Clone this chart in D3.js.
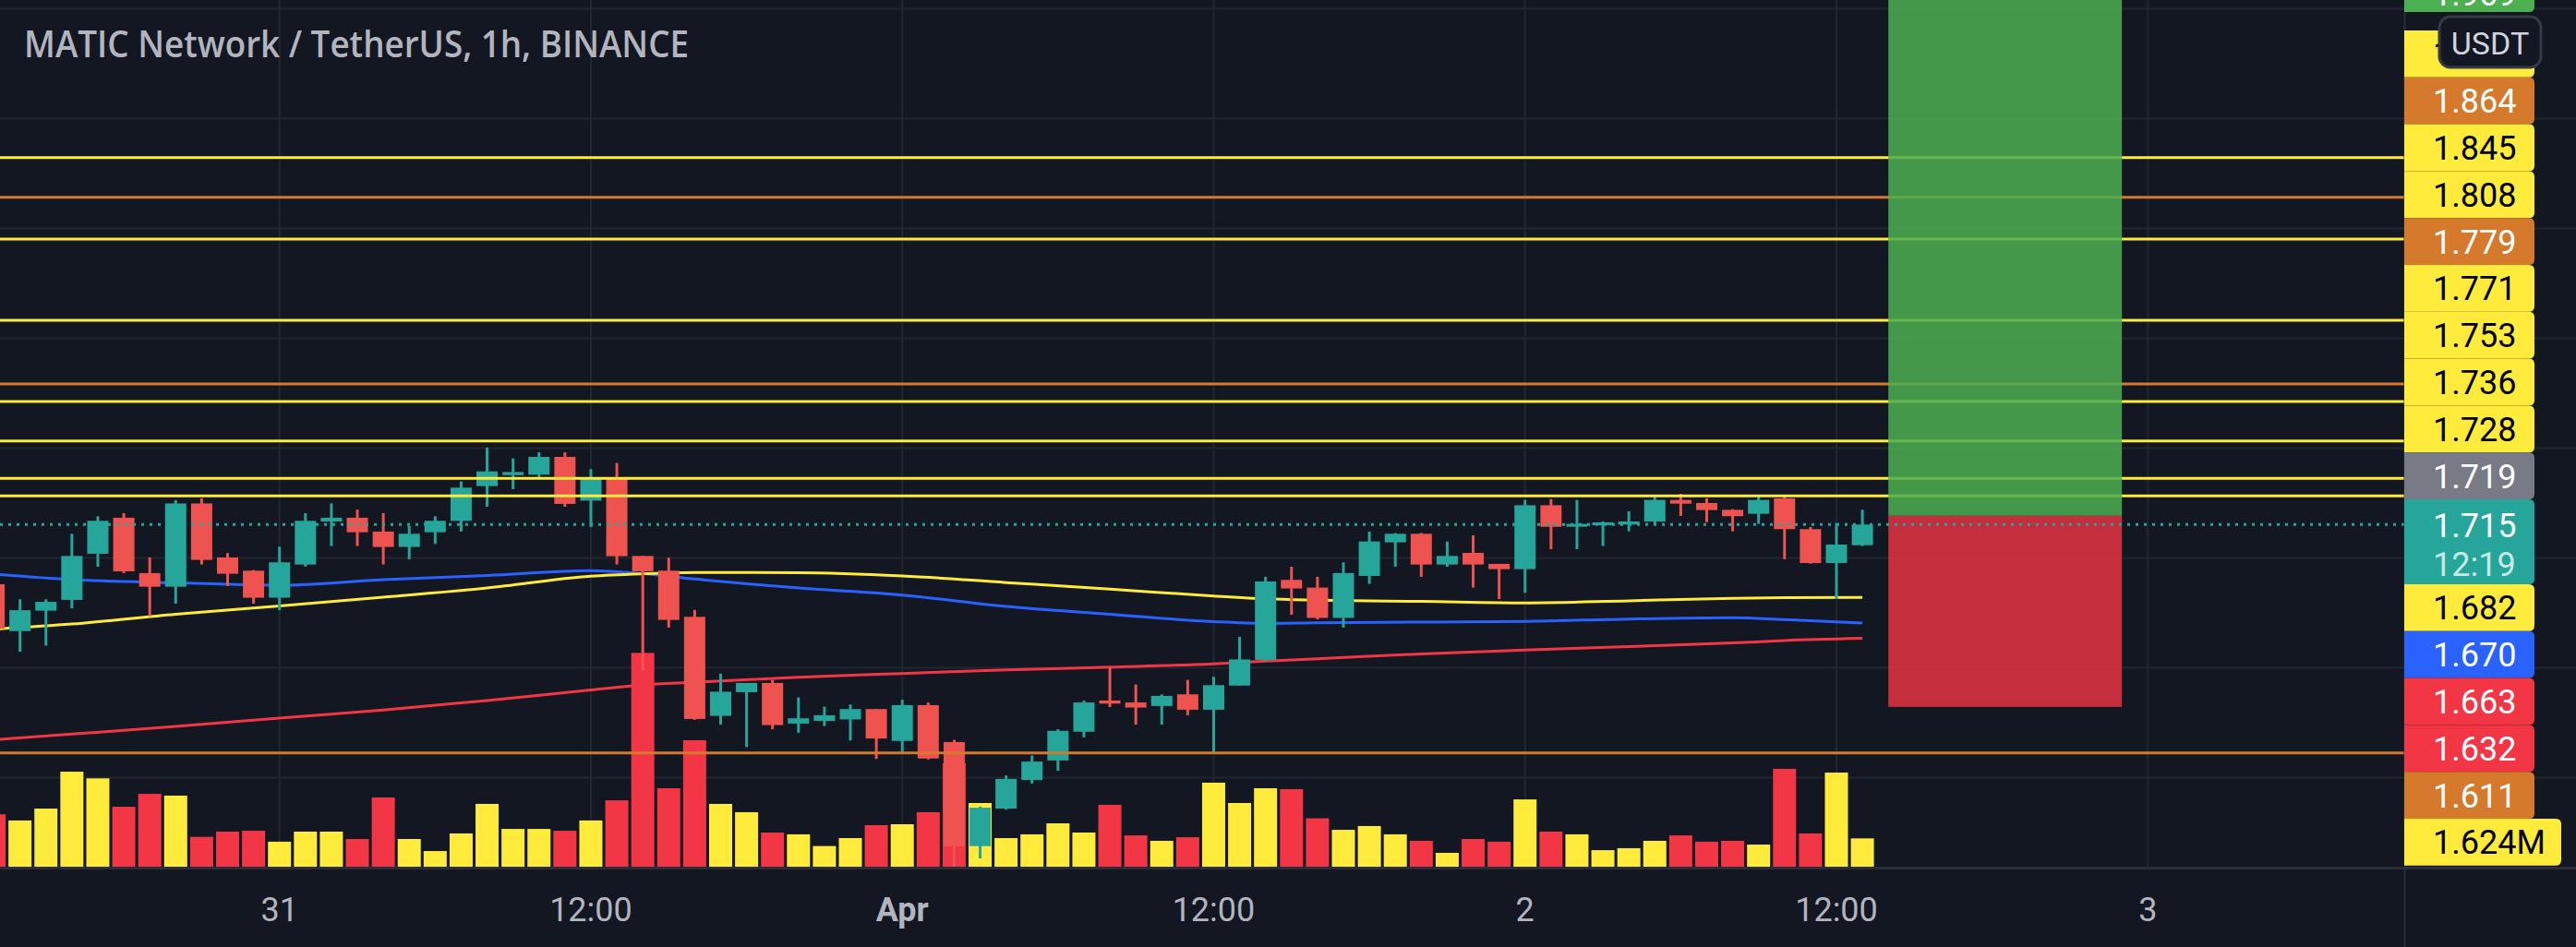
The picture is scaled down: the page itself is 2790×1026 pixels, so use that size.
<!DOCTYPE html>
<html><head><meta charset="utf-8">
<script src="https://cdn.jsdelivr.net/npm/d3@7"></script>
<style>html,body{margin:0;padding:0;background:#131722;overflow:hidden}</style>
</head><body>
<svg id="c" width="2790" height="1026"></svg>
<script>
// ---------------- DATA ----------------
const title = "MATIC Network / TetherUS, 1h, BINANCE";
const firstBar = "2022-03-30T13:00:00Z";   // hourly bars from here
const opens  = [1.6878,1.6665,1.6758,1.6807,1.7017,1.7181,1.6929,1.6867,1.7246,1.7000,1.6940,
  1.6817,1.6968,1.7164,1.7181,1.7118,1.7048,1.7115,1.7167,1.7325,1.7375,1.7377,1.7458,
  1.7259,1.7360,1.7007,1.6940,1.6730,1.6279,1.6387,1.6429,1.6244,1.6256,1.6263,1.6310,
  1.6165,1.6328,1.6160,1.5686,1.5857,1.5987,1.6076,1.6207,1.6349,1.6340,1.6324,1.6377,
  1.6307,1.6417,1.6534,1.6898,1.6863,1.6725,1.6916,1.7069,1.7108,1.6968,1.7021,1.6971,
  1.6947,1.7238,1.7140,1.7147,1.7150,1.7164,1.7262,1.7248,1.7217,1.7199,1.7269,1.7129,
  1.6975,1.7056];
const highs  = [1.6900,1.6810,1.6810,1.7108,1.7188,1.7202,1.7000,1.7261,1.7269,1.7020,1.6943,
  1.7049,1.7202,1.7246,1.7218,1.7202,1.7143,1.7188,1.7346,1.7500,1.7451,1.7479,1.7479,
  1.7402,1.7430,1.7007,1.6999,1.6761,1.6471,1.6429,1.6443,1.6363,1.6321,1.6331,1.6310,
  1.6352,1.6340,1.6170,1.5866,1.6008,1.6099,1.6218,1.6349,1.6499,1.6422,1.6377,1.6443,
  1.6457,1.6639,1.6912,1.6958,1.6912,1.6978,1.7118,1.7111,1.7112,1.7073,1.7101,1.6971,
  1.7262,1.7266,1.7262,1.7164,1.7210,1.7276,1.7290,1.7269,1.7220,1.7283,1.7283,1.7139,
  1.7157,1.7217];
const lows   = [1.6650,1.6571,1.6599,1.6769,1.6958,1.6929,1.6733,1.6790,1.6968,1.6870,1.6790,
  1.6760,1.6958,1.7052,1.7052,1.6968,1.6992,1.7062,1.7118,1.7231,1.7311,1.7363,1.7231,
  1.7139,1.6968,1.6485,1.6681,1.6261,1.6239,1.6137,1.6218,1.6202,1.6233,1.6167,1.6083,
  1.6106,1.6081,1.5580,1.5630,1.5852,1.5971,1.6029,1.6181,1.6319,1.6239,1.6239,1.6282,
  1.6106,1.6417,1.6527,1.6739,1.6718,1.6681,1.6880,1.6958,1.6912,1.6958,1.6863,1.6811,
  1.6839,1.7038,1.7038,1.7052,1.7119,1.7147,1.7189,1.7161,1.7119,1.7153,1.6992,1.6972,
  1.6811,1.7052];
const closes = [1.6676,1.6760,1.6798,1.7007,1.7167,1.6937,1.6867,1.7246,1.6989,1.6926,1.6817,
  1.6978,1.7167,1.7181,1.7115,1.7048,1.7108,1.7167,1.7318,1.7392,1.7389,1.7458,1.7244,
  1.7360,1.7006,1.6937,1.6716,1.6265,1.6389,1.6429,1.6237,1.6268,1.6282,1.6310,1.6176,
  1.6328,1.6085,1.5685,1.5861,1.5992,1.6071,1.6211,1.6340,1.6335,1.6317,1.6370,1.6307,
  1.6419,1.6536,1.6891,1.6859,1.6725,1.6929,1.7073,1.7108,1.6968,1.7007,1.6968,1.6947,
  1.7238,1.7140,1.7153,1.7160,1.7164,1.7262,1.7245,1.7216,1.7188,1.7262,1.7129,1.6975,
  1.7059,1.7150];
const volumes = [2.96,2.62,3.28,5.33,4.96,3.38,4.10,4.00,1.71,2.00,2.05,
  1.44,2.00,2.00,1.59,3.90,1.59,0.92,1.90,3.54,2.15,2.15,2.05,
  2.62,3.74,11.93,4.41,7.08,3.54,3.08,1.95,1.85,1.20,1.64,2.36,
  2.41,3.08,5.80,3.59,1.64,1.85,2.46,1.95,3.49,1.79,1.49,1.69,
  4.72,3.59,4.41,4.36,2.74,2.10,2.31,1.85,1.49,0.82,1.59,1.44,
  3.79,2.00,1.85,0.97,1.08,1.49,1.79,1.44,1.49,1.28,5.49,1.90,
  5.28,1.624]; // millions

// moving averages read at these bar indices
const maIndex  = [0,3,7,11,15,19,23,25,27,31,35,39,43,47,49,51,55,59,63,67,69,72];
const maYellow = [1.6674,1.6697,1.6742,1.6779,1.6819,1.6861,1.6915,1.6926,1.6932,1.6931,1.6916,1.6886,1.6856,1.6825,1.6812,1.6806,1.6800,1.6793,1.6803,1.6814,1.6817,1.6818];
const maBlue   = [1.6924,1.6899,1.6885,1.6874,1.6899,1.6918,1.6940,1.6926,1.6902,1.6861,1.6829,1.6777,1.6742,1.6708,1.6700,1.6703,1.6706,1.6709,1.6720,1.6726,1.6717,1.6702];
const maRed    = [1.6170,1.6196,1.6231,1.6269,1.6306,1.6349,1.6397,1.6420,1.6432,1.6455,1.6472,1.6488,1.6501,1.6516,1.6528,1.6539,1.6561,1.6579,1.6595,1.6611,1.6622,1.6632];

// horizontal drawings
const levelPrices = [1.882,1.864,1.845,1.808,1.779,1.771,1.753,1.736,1.728,1.611];
const levelKinds  = ["y","o","y","y","o","y","y","y","y","o"];

// long position tool
const posEntry = 1.719, posStop = 1.632, posTarget = 1.969;
const posStartBar = 73, posEndBar = 82;

const lastPrice = 1.715, countdown = "12:19", currency = "USDT";

// ---------------- STYLE ----------------
const C = {
  bg:"#131722", grid:"#22262f", text:"#b2b5be",
  up:"#26a69a", down:"#ef5350", volUp:"#ffeb3b", volDown:"#f23645",
  yellow:"#ffeb3b", orange:"#d57a2c", blue:"#2962ff", red:"#f23645", gray:"#787b86", green:"#4caf50"
};
const W=2790, H=1026, plotW=2604, plotH=940;

const svg = d3.select("#c");
const t0 = new Date(firstBar);
const barTime = i => d3.utcHour.offset(t0, i);
const times = opens.map((_, i) => barTime(i));

const x = d3.scaleUtc().domain([barTime(11), barTime(71)]).range([302.7, 302.7 + 60*28.105]);
const y = d3.scaleLinear().domain([1.60, 1.95]).range([842, 9]);
const vy = d3.scaleLinear().domain([0, 12]).range([plotH, plotH - 12*19.5]);

svg.append("rect").attr("width",W).attr("height",H).attr("fill",C.bg);

// grid
const priceTicks = y.ticks(7);
svg.append("g").selectAll("line").data(priceTicks).join("line")
  .attr("x1",0).attr("x2",W).attr("y1",d=>Math.round(y(d))+0.5).attr("y2",d=>Math.round(y(d))+0.5)
  .attr("stroke",C.grid).attr("stroke-width",2);
const timeTicks = d3.utcHour.every(12).range(barTime(0), barTime(84)).filter(t=>x(t)>0 && x(t)<plotW);
svg.append("g").selectAll("line").data(timeTicks).join("line")
  .attr("x1",d=>x(d)).attr("x2",d=>x(d)).attr("y1",0).attr("y2",plotH)
  .attr("stroke",C.grid).attr("stroke-width",2);

// plot clip
svg.append("clipPath").attr("id","clip").append("rect").attr("width",plotW).attr("height",plotH);
const plot = svg.append("g").attr("clip-path","url(#clip)");

const isUp = i => closes[i] >= opens[i];

// volume
plot.append("g").selectAll("rect").data(volumes).join("rect")
  .attr("x",(d,i)=>x(times[i]) - 12.5).attr("width",25)
  .attr("y",d=>vy(d)).attr("height",d=>plotH - vy(d))
  .attr("fill",(d,i)=>isUp(i)?C.volUp:C.volDown);

// moving averages
const maLine = vals => d3.line().x((d,k)=>x(times[maIndex[k]])).y(d=>y(d)).curve(d3.curveMonotoneX)(vals);
[[maRed,C.red],[maBlue,C.blue],[maYellow,C.yellow]].forEach(([vals,col])=>{
  plot.append("path").attr("d",maLine(vals)).attr("fill","none").attr("stroke",col).attr("stroke-width",3);
});

// candles
const cg = plot.append("g");
cg.selectAll("line").data(opens).join("line")
  .attr("x1",(d,i)=>x(times[i])).attr("x2",(d,i)=>x(times[i]))
  .attr("y1",(d,i)=>y(highs[i])).attr("y2",(d,i)=>y(lows[i]))
  .attr("stroke",(d,i)=>isUp(i)?C.up:C.down).attr("stroke-width",3);
cg.selectAll("rect").data(opens).join("rect")
  .attr("x",(d,i)=>x(times[i]) - 11.5).attr("width",23)
  .attr("y",(d,i)=>y(Math.max(opens[i],closes[i])))
  .attr("height",(d,i)=>Math.max(3, Math.abs(y(opens[i]) - y(closes[i]))))
  .attr("fill",(d,i)=>isUp(i)?C.up:C.down);

// horizontal levels
plot.append("g").selectAll("line").data(levelPrices).join("line")
  .attr("x1",0).attr("x2",plotW).attr("y1",d=>y(d)).attr("y2",d=>y(d))
  .attr("stroke",(d,i)=>levelKinds[i]==="o"?C.orange:C.yellow).attr("stroke-width",3);

// position tool
const px0 = x(barTime(posStartBar)), px1 = x(barTime(posEndBar));
plot.append("rect").attr("x",px0).attr("width",px1-px0).attr("y",y(posTarget)).attr("height",y(posEntry)-y(posTarget))
  .attr("fill","rgba(76,175,80,0.86)");
plot.append("rect").attr("x",px0).attr("width",px1-px0).attr("y",y(posEntry)).attr("height",y(posStop)-y(posEntry))
  .attr("fill","rgba(242,54,69,0.8)");

// last price dotted line
plot.append("line").attr("x1",0).attr("x2",plotW).attr("y1",y(lastPrice)).attr("y2",y(lastPrice))
  .attr("stroke",C.up).attr("stroke-width",3).attr("stroke-dasharray","3,6");

// separators
svg.append("line").attr("x1",0).attr("x2",W).attr("y1",plotH+0.5).attr("y2",plotH+0.5).attr("stroke","#2a2e39").attr("stroke-width",3);
svg.append("line").attr("x1",plotW+0.5).attr("x2",plotW+0.5).attr("y1",0).attr("y2",H).attr("stroke","#2a2e39").attr("stroke-width",2);

// time axis labels
const fmtTime = t => t.getUTCHours()!==0 ? d3.utcFormat("%H:%M")(t) : (t.getUTCDate()===1 ? d3.utcFormat("%b")(t) : String(t.getUTCDate()));
svg.append("g").selectAll("text").data(timeTicks).join("text")
  .attr("x",d=>x(d)).attr("y",998).attr("text-anchor","middle")
  .attr("font-family","Roboto, sans-serif").attr("font-size",36)
  .attr("font-weight",d=>(d.getUTCHours()===0 && d.getUTCDate()===1)?700:400)
  .attr("fill",C.text).text(fmtTime);

const axisFont = "Roboto, sans-serif";

// price axis stacked labels
const rr = (x0,y0,w,h,r) => `M${x0},${y0}H${x0+w-r}Q${x0+w},${y0} ${x0+w},${y0+r}V${y0+h-r}Q${x0+w},${y0+h} ${x0+w-r},${y0+h}H${x0}Z`;
const fmtP = d3.format(".3f");
const items = levelPrices.map((p,i)=>({p, bg: levelKinds[i]==="o"?C.orange:C.yellow, fg: levelKinds[i]==="o"?"#ffffff":"#000000"}));
items.push({p:posEntry, bg:C.gray, fg:"#ffffff"});
items.push({p:lastPrice, bg:C.up, fg:"#ffffff", sub:countdown});
items.push({p:maYellow[maYellow.length-1], bg:C.yellow, fg:"#000000"});
items.push({p:maBlue[maBlue.length-1], bg:C.blue, fg:"#ffffff"});
items.push({p:maRed[maRed.length-1], bg:C.red, fg:"#ffffff"});
items.push({p:posStop, bg:C.red, fg:"#ffffff"});
items.sort((a,b)=>b.p-a.p);
items.forEach(d=>d.text = fmtP(d.p));
items.push({text: d3.format(".3f")(volumes[volumes.length-1])+"M", bg:C.yellow, fg:"#000000", wide:true});

const lg = svg.append("g");
const LH = 50.8;
let cy = 33;
items.forEach(d=>{
  const h = d.sub ? 92 : LH;
  const w = d.wide ? 170 : 141;
  lg.append("path").attr("d", rr(plotW, cy, w, h, 6)).attr("fill", d.bg);
  const c1 = d.sub ? cy + 28 : cy + h/2;
  lg.append("text").attr("x",2635).attr("y",c1+13).attr("font-family",axisFont).attr("font-size",36)
    .attr("fill",d.fg).text(d.text);
  if (d.sub) lg.append("text").attr("x",2635).attr("y",cy+70+13).attr("font-family",axisFont).attr("font-size",36)
    .attr("fill","rgba(255,255,255,0.75)").text(d.sub);
  cy += h;
});

// target label (clipped at top)
lg.append("path").attr("d", rr(plotW, -38, 141, 51, 6)).attr("fill", C.green);
lg.append("text").attr("x",2635).attr("y",6).attr("font-family",axisFont).attr("font-size",36)
  .attr("fill","#ffffff").text(fmtP(posTarget));

// currency button
svg.append("rect").attr("x",2642).attr("y",18).attr("width",110).attr("height",55).attr("rx",12)
  .attr("fill",C.bg).attr("stroke","#363a45").attr("stroke-width",3);
svg.append("text").attr("x",2697).attr("y",59).attr("text-anchor","middle").attr("font-family",axisFont)
  .attr("font-size",34).attr("fill","#d1d4dc").text(currency);

// title
svg.append("text").attr("x",26).attr("y",62).attr("font-family","'Open Sans', sans-serif").attr("font-weight",600)
  .attr("font-size",40).attr("fill",C.text).attr("textLength",720).attr("lengthAdjust","spacingAndGlyphs").text(title);
</script>
</body></html>
